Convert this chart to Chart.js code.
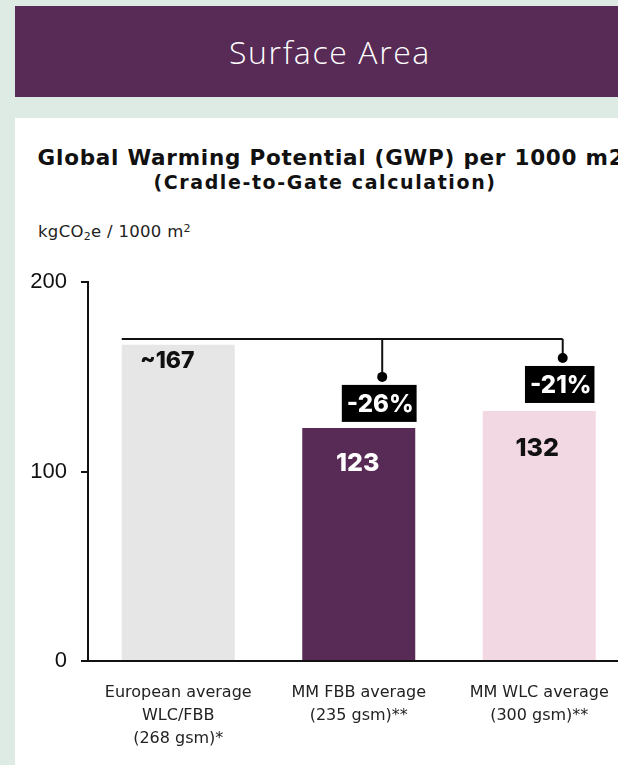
<!DOCTYPE html>
<html>
<head>
<meta charset="utf-8">
<script src="https://cdn.jsdelivr.net/npm/chart.js@4"></script>
<style>
  html, body { margin:0; padding:0; }
  body { width:618px; height:765px; overflow:hidden; background:#deebe4; position:relative; font-family:"DejaVu Sans",sans-serif; }
  #header { position:absolute; left:15px; top:6px; width:630px; height:91px; background:#582a56; color:#fff;
            font-family:"Open Sans",sans-serif; font-weight:300; font-size:32px; letter-spacing:1.6px; text-align:center; line-height:91px; }
  #panel { position:absolute; left:15px; top:118px; width:630px; height:660px; background:#fff; }
  #title { position:absolute; left:0; top:28px; width:632px; line-height:24px; text-align:center; font-weight:bold; font-size:21.5px; color:#111; white-space:nowrap; letter-spacing:0.75px; }
  #subtitle { position:absolute; left:0; top:53px; width:620px; line-height:22px; text-align:center; font-weight:bold; font-size:19px; color:#111; white-space:nowrap; letter-spacing:1.6px; }
  #unit { position:absolute; left:23px; top:101px; line-height:20px; font-size:16.5px; letter-spacing:0.3px; color:#222; white-space:nowrap; }
  #unit sub { font-size:11px; vertical-align:-3px; }
  #unit sup { font-size:11px; vertical-align:5px; }
  #wrap { position:absolute; left:15px; top:255px; width:620px; height:510px; }
</style>
</head>
<body>
<div id="header">Surface Area</div>
<div id="panel">
  <div id="title">Global Warming Potential (GWP) per 1000 m2</div>
  <div id="subtitle">(Cradle-to-Gate calculation)</div>
  <div id="unit">kgCO<sub>2</sub>e / 1000 m<sup>2</sup></div>
</div>
<div id="wrap"><canvas id="c" width="620" height="510"></canvas></div>
<script>
const categories = [
  ["European average", "WLC/FBB", "(268 gsm)*"],
  ["MM FBB average", "(235 gsm)**"],
  ["MM WLC average", "(300 gsm)**"]
];
const values = [167, 123, 132];
const valueLabels = ["~167", "123", "132"];
const reductionLabels = ["", "-26%", "-21%"];
const barColors = ["#e6e6e6", "#582a56", "#f2d8e3"];
const valueLabelColors = ["#111111", "#ffffff", "#111111"];
const bracketLevel = 170;
const dotLevels = [null, 150, 160];
const yTicks = [0, 100, 200];

const bracketPlugin = {
  id: 'bracket',
  afterDatasetsDraw(chart) {
    const ctx = chart.ctx;
    const x = chart.scales.x, y = chart.scales.y;
    const meta = chart.getDatasetMeta(0);
    const catW = x.getPixelForValue(1) - x.getPixelForValue(0);
    ctx.save();
    ctx.textAlign = 'center';
    ctx.textBaseline = 'middle';
    const labOff = [-11, -1, -2];
    const labDy = [16, 35, 37];
    meta.data.forEach((bar, i) => {
      ctx.fillStyle = valueLabelColors[i];
      ctx.font = (i === 0 ? '800 23px' : '800 25px') + ' Inter, "Noto Sans", sans-serif';
      ctx.fillText(valueLabels[i], bar.x + labOff[i], bar.y + labDy[i]);
    });
    const yB = y.getPixelForValue(bracketLevel);
    const left = meta.data[0].x - meta.data[0].width / 2;
    const lastIdx = values.length - 1;
    const dropX = i => meta.data[i].x + catW * 0.13;
    ctx.strokeStyle = '#111';
    ctx.lineWidth = 2;
    ctx.beginPath();
    ctx.moveTo(left, yB);
    ctx.lineTo(dropX(lastIdx), yB);
    ctx.stroke();
    for (let i = 1; i < values.length; i++) {
      const dx = dropX(i);
      const dy = y.getPixelForValue(dotLevels[i]);
      ctx.beginPath();
      ctx.moveTo(dx, yB);
      ctx.lineTo(dx, dy);
      ctx.stroke();
      ctx.beginPath();
      ctx.fillStyle = '#000';
      ctx.arc(dx, dy, 5, 0, Math.PI * 2);
      ctx.fill();
      ctx.font = '800 24px Inter, "Noto Sans", sans-serif';
      const tw = ctx.measureText(reductionLabels[i]).width;
      const bw = tw + 8, bh = 37;
      const bx = dx - 3 - bw / 2;
      const by = dy + 8;
      ctx.fillStyle = '#000';
      ctx.fillRect(bx, by, bw, bh);
      ctx.fillStyle = '#fff';
      ctx.fillText(reductionLabels[i], bx + bw / 2 + 1, by + bh / 2 + 1);
    }
    ctx.restore();
  }
};

new Chart(document.getElementById('c'), {
  type: 'bar',
  data: {
    labels: categories,
    datasets: [{
      data: values,
      backgroundColor: barColors,
      categoryPercentage: 1,
      barPercentage: 0.626,
      borderWidth: 0
    }]
  },
  options: {
    responsive: false,
    animation: false,
    devicePixelRatio: 1,
    layout: { padding: { top: 27, right: 5.5, left: 0, bottom: 0 } },
    plugins: { legend: { display: false }, tooltip: { enabled: false } },
    scales: {
      y: {
        min: 0, max: 200,
        afterBuildTicks(s) { s.ticks = yTicks.map(v => ({ value: v })); },
        afterFit(s) { s.width = 73; },
        grid: { display: true, drawOnChartArea: false, drawTicks: true, tickLength: 7, color: '#111', lineWidth: 2 },
        border: { display: true, color: '#111', width: 2 },
        ticks: { color: '#111', padding: 14, font: { family: '"Liberation Sans", Arial, sans-serif', size: 22 } }
      },
      x: {
        afterFit(s) { s.height = 104; },
        grid: { display: false },
        border: { display: true, color: '#111', width: 2 },
        ticks: { color: '#222', padding: 12, maxRotation: 0, autoSkip: false,
                 font: { family: '"DejaVu Sans", sans-serif', size: 16, lineHeight: 1.44 } }
      }
    }
  },
  plugins: [bracketPlugin]
});
</script>
</body>
</html>
